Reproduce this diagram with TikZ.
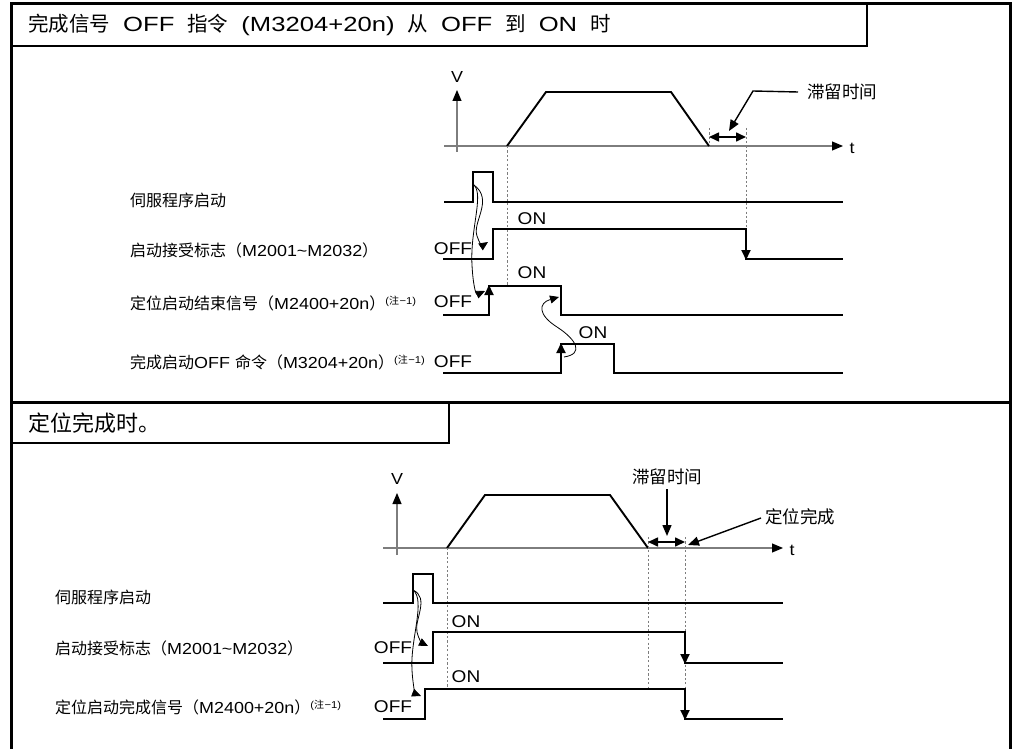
\documentclass[tikz,border=0pt]{standalone}
\usepackage{fontspec}
\setmainfont{Liberation Sans}[FakeStretch=1.12]
\newfontfamily\titlelat{Liberation Sans}[FakeStretch=1.25]
\newfontfamily\cjk{Noto Sans CJK SC}
\newcommand\zh[1]{{\cjk #1}}
\newcommand\tsp{\hspace{13pt}}
\newcommand\zhunote{\raisebox{0.6ex}{\fontsize{10}{10}\selectfont(\zh{注}\kern0.5pt−1)}}
\usetikzlibrary{arrows.meta}
\definecolor{axisgray}{RGB}{125,125,125}
\tikzset{
  frameline/.style={line width=3pt},
  boxline/.style={line width=2.4pt},
  sig/.style={line width=1.9pt, line join=miter},
  axisline/.style={line width=1.1pt, axisgray, -{Triangle[length=11pt,width=9pt,black]}},
  guide/.style={line width=0.9pt, axisgray, dash pattern=on 2.2pt off 2.2pt},
  edgearrow/.style={line width=1.9pt, -{Triangle[length=10pt,width=9pt]}},
  curvearrow/.style={line width=0.8pt, -{Triangle[length=9pt,width=8pt]}},
  dimarrow/.style={line width=1.6pt, {Triangle[length=10pt,width=9pt]}-{Triangle[length=10pt,width=9pt]}},
  leader/.style={line width=1.4pt, -{Triangle[length=11pt,width=9pt]}},
  lab/.style={anchor=west, inner sep=0pt, font=\fontsize{16}{18}\selectfont},
  onoff/.style={inner sep=0pt, font=\fontsize{17}{19}\selectfont},
  zhlab/.style={inner sep=0pt, font=\fontsize{17.5}{20}\selectfont\cjk},
  axlab/.style={inner sep=0pt, font=\fontsize{16}{18}\selectfont}
}
\begin{document}
\begin{tikzpicture}[x=1pt,y=-1pt]
\useasboundingbox (0,0) rectangle (1013,749);
% ---------- frame ----------
\draw[frameline] (11,749) -- (11,4) -- (1010,4) -- (1010,749);
\draw[frameline] (11,402) -- (1010,402);
\draw[boxline] (11,46) -- (867,46) -- (867,4);
\draw[boxline] (11,443) -- (449,443) -- (449,402);
\node[anchor=west, inner sep=0pt] (title1) at (28,25)
  {\fontsize{20.5}{24}\selectfont\titlelat\zh{完成信号}\tsp OFF\tsp\zh{指令}\tsp(M3204+20n)\tsp\zh{从}\tsp OFF\tsp\zh{到}\tsp ON\tsp\zh{时}};
\node[anchor=west, inner sep=0pt] (title2) at (28,423)
  {\fontsize{22}{26}\selectfont\zh{定位完成时。}};

% ================= TOP SECTION =================
\coordinate (v1b) at (457,152); \coordinate (v1t) at (457,90);
\coordinate (t1l) at (444,146); \coordinate (t1r) at (843,146);
\draw[axisline] (v1b) -- (v1t);
\draw[axisline] (t1l) -- (t1r);
\node[axlab] (V1) at (457,77) {V};
\node[axlab] (tt1) at (852,148) {t};
% speed profile
\draw[sig] (507,146) -- (546,92) -- (671,92) -- (709,146);
% guides
\draw[guide] (507,146) -- (507,286);
\draw[guide] (709,128) -- (709,146);
\draw[guide] (746,128) -- (746,229);
% dwell
\coordinate (d1a) at (709,137); \coordinate (d1b) at (746,137);
\draw[dimarrow] (d1a) -- (d1b);
\node[zhlab, anchor=west] (dw1) at (807,92) {滞留时间};
\coordinate (ld1) at (753,91); \coordinate (ld1t) at (729,131);
\draw[leader] (dw1.west) ++(-9,0) -- (ld1) -- (ld1t);
% signals
\draw[sig] (444,202) -- (473,202) -- (473,172) -- (493,172) -- (493,202) -- (843,202);
\draw[sig] (443,259) -- (493,259) -- (493,229) -- (746,229) -- (746,259) -- (843,259);
\draw[edgearrow] (746,240) -- (746,260);
\draw[sig] (443,315) -- (489,315) -- (489,286) -- (561,286) -- (561,315) -- (843,315);
\draw[edgearrow] (489,305) -- (489,285);
\draw[sig] (443,373) -- (561,373) -- (561,344) -- (614,344) -- (614,373) -- (843,373);
\draw[edgearrow] (561,362) -- (561,343);
% causal curves
\coordinate (c1s) at (474,185);
\coordinate (c1a) at (488,242);
\coordinate (c1b) at (485,291);
\draw[curvearrow] (c1s) .. controls (494,200) and (472,222) .. (477,236) .. controls (479,242) and (482,246) .. (c1a);
\draw[curvearrow] (c1s) .. controls (484,195) and (470,230) .. (472,265) .. controls (473,285) and (476,295) .. (c1b);
\coordinate (c2s) at (564,357);
\coordinate (c2e) at (559,297);
\draw[curvearrow] (c2s) .. controls (584,354) and (577,340) .. (557,327) .. controls (538,315) and (538,303) .. (c2e);
% ON/OFF labels
\node[onoff] (on1) at (532,219) {ON};
\node[onoff] (on2) at (532,273) {ON};
\node[onoff] (on3) at (593,333) {ON};
\node[onoff] (off1) at (453,249) {OFF};
\node[onoff] (off2) at (453,302) {OFF};
\node[onoff] (off3) at (453,362) {OFF};
% row labels
\node[lab] (r1) at (130,200) {\zh{伺服程序启动}};
\node[lab] (r2) at (130,250) {\zh{启动接受标志（}M2001\textasciitilde M2032\zh{）}};
\node[lab] (r3) at (130,303) {\zh{定位启动结束信号（}M2400+20n\zh{）}\zhunote};
\node[lab] (r4) at (130,362) {\zh{完成启动}OFF \zh{命令（}M3204+20n\zh{）}\zhunote};

% ================= BOTTOM SECTION =================
\coordinate (v2b) at (397,555); \coordinate (v2t) at (397,493);
\coordinate (t2l) at (383,548); \coordinate (t2r) at (783,548);
\draw[axisline] (v2b) -- (v2t);
\draw[axisline] (t2l) -- (t2r);
\node[axlab] (V2) at (397,479) {V};
\node[axlab] (tt2) at (792,550) {t};
\draw[sig] (447,548) -- (485,495) -- (610,495) -- (648,548);
% guides
\draw[guide] (447,548) -- (447,689);
\draw[guide] (648,537) -- (648,689);
\draw[guide] (685,537) -- (685,689);
% dwell
\draw[dimarrow] (648,542) -- (685,542);
\node[zhlab] (dw2) at (667,477) {滞留时间};
\coordinate (dw2t) at (667,536);
\draw[leader] (dw2.south) ++(0,4) -- (dw2t);
\node[zhlab, anchor=west] (pc) at (765,517) {定位完成};
\coordinate (pct) at (688,545);
\draw[leader] (pc.west) ++(-4,1) -- (pct);
% signals
\draw[sig] (383,603) -- (413,603) -- (413,574) -- (433,574) -- (433,603) -- (783,603);
\draw[sig] (383,663) -- (433,663) -- (433,632) -- (685,632) -- (685,663) -- (783,663);
\draw[edgearrow] (685,645) -- (685,664);
\draw[sig] (383,719) -- (425,719) -- (425,689) -- (685,689) -- (685,719) -- (783,719);
\draw[edgearrow] (685,701) -- (685,720);
% causal curves
\coordinate (c3s) at (413,590);
\coordinate (c3a) at (428,646);
\coordinate (c3b) at (421,696);
\draw[curvearrow] (c3s) .. controls (430,598) and (414,620) .. (417,632) .. controls (419,640) and (422,643) .. (c3a);
\draw[curvearrow] (c3s) .. controls (426,600) and (410,640) .. (412,670) .. controls (413,688) and (416,694) .. (c3b);
% ON/OFF labels
\node[onoff] (on4) at (466,622) {ON};
\node[onoff] (on5) at (466,677) {ON};
\node[onoff] (off4) at (393,648) {OFF};
\node[onoff] (off5) at (393,707) {OFF};
% row labels
\node[lab] (b1) at (55,597) {\zh{伺服程序启动}};
\node[lab] (b2) at (55,648) {\zh{启动接受标志（}M2001\textasciitilde M2032\zh{）}};
\node[lab] (b3) at (55,707) {\zh{定位启动完成信号（}M2400+20n\zh{）}\zhunote};
\end{tikzpicture}
\end{document}
